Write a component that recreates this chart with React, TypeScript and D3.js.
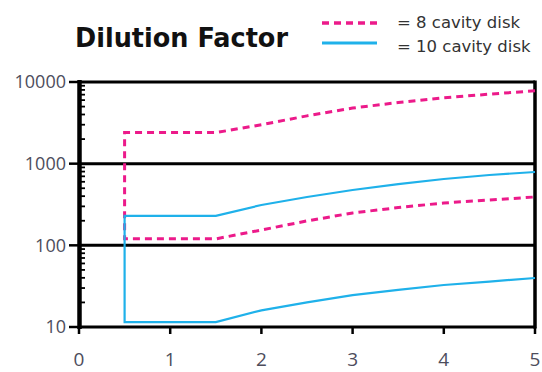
import * as d3 from 'd3'
import React from 'react'

// x positions where the curves were read, and the dilution factor at each
const tValues = [0.5, 1, 1.5, 2, 2.5, 3, 3.5, 4, 4.5, 5]
const eightHigh = [2400, 2400, 2400, 3000, 3850, 4800, 5600, 6400, 7100, 7800]
const eightLow = [120, 120, 120, 154, 199, 249, 290, 330, 359, 391]
const tenHigh = [230, 230, 230, 312, 391, 476, 563, 649, 727, 791]
const tenLow = [11.5, 11.5, 11.5, 16, 20, 24.6, 28.5, 32.7, 36, 39.8]

const xTicks = [0, 1, 2, 3, 4, 5]
const yTicks = [10, 100, 1000, 10000]
const legendLabels = ['= 8 cavity disk', '= 10 cavity disk']

const width = 542
const height = 372
const pink = '#ec1a8a'
const cyan = '#1fb1ea'
const labelFont = '"Open Sans", sans-serif'
const labelColor = '#4d4d5c'

export default function App () {
  const x = d3.scaleLinear().domain([0, 5]).range([79, 535])
  const y = d3.scaleLog().domain([10, 10000]).range([327, 82])

  const line = d3.line<[number, number]>()
    .x(d => x(d[0]))
    .y(d => y(d[1]))

  // upper curve back to the start, down the vertical, then the lower curve
  const band = (hi: number[], lo: number[]) => {
    const top = tValues.map((t, i) => [t, hi[i]] as [number, number]).reverse()
    const bottom = tValues.map((t, i) => [t, lo[i]] as [number, number])
    return line(top.concat(bottom)) || ''
  }

  const minor: number[] = []
  for (let d = 10; d < 10000; d *= 10) {
    for (let k = 2; k <= 9; k++) minor.push(d * k)
  }

  return (
    <svg width={width} height={height} style={{ position: 'absolute', left: 0, top: 0, background: '#fff' }}>
      <text x={75} y={47} fontFamily='"DejaVu Sans", sans-serif' fontWeight='bold' fontSize={27} textLength={213} lengthAdjust='spacingAndGlyphs' fill='#111'>Dilution Factor</text>

      <line x1={322} x2={377} y1={23} y2={23} stroke={pink} strokeWidth={3.5} strokeDasharray='7 5' />
      <line x1={322} x2={377} y1={43} y2={43} stroke={cyan} strokeWidth={3} />
      {legendLabels.map((l, i) => (
        <text key={l} x={397} y={27.5 + i * 24} fontFamily='"DejaVu Sans", sans-serif' fontSize={16.5} fill='#333'>{l}</text>
      ))}

      {yTicks.map(v => (
        <line key={'g' + v} x1={x(0)} x2={x(5)} y1={y(v)} y2={y(v)} stroke='#000' strokeWidth={3} />
      ))}
      <line x1={x(5)} x2={x(5)} y1={y(10000) - 1.5} y2={y(10) + 1.5} stroke='#000' strokeWidth={3.5} />

      <path d={band(eightHigh, eightLow)} fill='none' stroke={pink} strokeWidth={3} strokeDasharray='7 5' />
      <path d={band(tenHigh, tenLow)} fill='none' stroke={cyan} strokeWidth={2.2} />

      <line x1={79.5} x2={79.5} y1={y(10000) - 2} y2={y(10) + 2} stroke='#000' strokeWidth={4.5} />
      {minor.map(v => (
        <line key={'m' + v} x1={80} x2={85} y1={y(v)} y2={y(v)} stroke='#000' strokeWidth={1.8} />
      ))}
      {yTicks.map(v => (
        <g key={'y' + v}>
          <line x1={69} x2={80} y1={y(v)} y2={y(v)} stroke='#000' strokeWidth={2.5} />
          <text x={66} y={y(v)} dy='0.36em' textAnchor='end' fontFamily={labelFont} fontSize={18} fill={labelColor}>{v}</text>
        </g>
      ))}
      {xTicks.map(t => (
        <g key={'x' + t}>
          <line x1={x(t)} x2={x(t)} y1={y(10)} y2={y(10) + 7} stroke='#000' strokeWidth={2.5} />
          <text x={x(t)} y={359} dy='0.36em' textAnchor='middle' fontFamily={labelFont} fontSize={19} fill={labelColor}>{t}</text>
        </g>
      ))}
    </svg>
  )
}
